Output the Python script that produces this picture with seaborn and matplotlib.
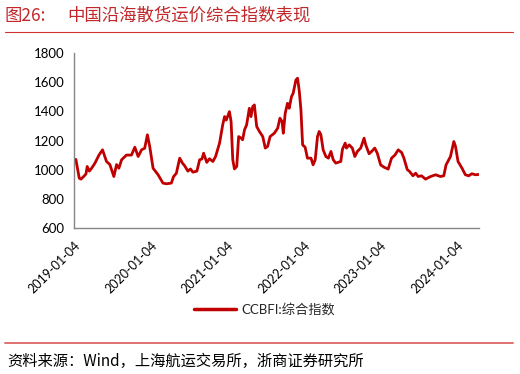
import matplotlib
matplotlib.use("Agg")
import matplotlib.pyplot as plt
from matplotlib.lines import Line2D
import seaborn as sns
import pandas as pd

dates = [
    "2019-01-04", "2019-01-13", "2019-01-29", "2019-02-06", "2019-02-17", "2019-03-02",
    "2019-03-08", "2019-03-18", "2019-03-29", "2019-04-14", "2019-05-03", "2019-05-20",
    "2019-06-08", "2019-06-24", "2019-07-13", "2019-07-26", "2019-08-06", "2019-08-19",
    "2019-09-11", "2019-10-05", "2019-10-21", "2019-11-06", "2019-11-22", "2019-12-07",
    "2019-12-20", "2019-12-31", "2020-01-16", "2020-02-09", "2020-03-03", "2020-03-20",
    "2020-04-12", "2020-04-23", "2020-05-06", "2020-05-22", "2020-06-04", "2020-06-14",
    "2020-06-30", "2020-07-12", "2020-07-24", "2020-08-12", "2020-08-25", "2020-09-05",
    "2020-09-13", "2020-09-28", "2020-10-11", "2020-10-27", "2020-11-09", "2020-11-28",
    "2020-12-13", "2020-12-22", "2020-12-30", "2021-01-14", "2021-01-22", "2021-01-30",
    "2021-02-07", "2021-02-18", "2021-02-27", "2021-03-11", "2021-03-18", "2021-03-27",
    "2021-04-06", "2021-04-19", "2021-04-27", "2021-05-05", "2021-05-13", "2021-05-24",
    "2021-06-06", "2021-06-22", "2021-07-04", "2021-07-15", "2021-07-27", "2021-08-16",
    "2021-09-01", "2021-09-12", "2021-09-22", "2021-09-28", "2021-10-07", "2021-10-18",
    "2021-10-26", "2021-11-06", "2021-11-14", "2021-11-27", "2021-12-05", "2021-12-13",
    "2021-12-21", "2021-12-29", "2022-01-10", "2022-01-21", "2022-02-07", "2022-02-17",
    "2022-02-27", "2022-03-10", "2022-03-18", "2022-03-26", "2022-04-06", "2022-04-19",
    "2022-05-01", "2022-05-13", "2022-05-24", "2022-06-05", "2022-06-29", "2022-07-07",
    "2022-07-20", "2022-07-26", "2022-08-08", "2022-08-23", "2022-09-04", "2022-09-16",
    "2022-10-02", "2022-10-18", "2022-10-26", "2022-11-11", "2022-11-23", "2022-12-08",
    "2022-12-20", "2023-01-05", "2023-01-21", "2023-02-10", "2023-02-26", "2023-03-14",
    "2023-03-30", "2023-04-15", "2023-04-26", "2023-05-12", "2023-05-23", "2023-06-08",
    "2023-06-21", "2023-07-03", "2023-07-19", "2023-08-07", "2023-08-31", "2023-09-24",
    "2023-10-17", "2023-11-02", "2023-11-13", "2023-12-04", "2023-12-20", "2023-12-28",
    "2024-01-09", "2024-01-28", "2024-02-13", "2024-02-29", "2024-03-15", "2024-04-01",
    "2024-04-16",
]
ccbfi = [
    1070, 1070, 942, 935, 950, 970,
    1022, 990, 1010, 1045, 1100, 1136,
    1056, 1035, 953, 1035, 1010, 1068,
    1100, 1100, 1154, 1090, 1136, 1147,
    1239, 1159, 1010, 965, 908, 903,
    908, 953, 975, 1079, 1045, 1028,
    990, 1005, 983, 990, 1068, 1073,
    1113, 1050, 1075, 1056, 1090, 1182,
    1307, 1364, 1340, 1398, 1330, 1068,
    1005, 1022, 1227, 1216, 1205, 1273,
    1307, 1421, 1364, 1432, 1444, 1296,
    1262, 1227, 1148, 1159, 1227, 1250,
    1284, 1353, 1330, 1250, 1387, 1455,
    1421, 1501, 1524, 1615, 1627, 1540,
    1410, 1170, 1154, 1079, 1079, 1033,
    1068, 1227, 1262, 1240, 1136, 1090,
    1079, 1125, 1068, 1045, 1056, 1140,
    1182, 1148, 1170, 1148, 1090, 1125,
    1148, 1216, 1170, 1109, 1125, 1148,
    1113, 1033, 1017, 1004, 1079, 1100,
    1136, 1118, 1079, 1000, 988, 958,
    976, 953, 958, 935, 953, 965,
    953, 958, 1033, 1090, 1193, 1159,
    1056, 1010, 965, 958, 972, 965,
    967,
]
tick_dates = ["2019-01-04", "2020-01-04", "2021-01-04", "2022-01-04", "2023-01-04", "2024-01-04"]
y_ticks = [600, 800, 1000, 1200, 1400, 1600, 1800]

fig_no = "图26:"
title = "中国沿海散货运价综合指数表现"
series_name = "CCBFI:综合指数"
source = "资料来源：Wind，上海航运交易所，浙商证券研究所"

df = pd.DataFrame({"date": pd.to_datetime(dates), "value": ccbfi})

sns.set_style("white")
plt.rcParams["font.family"] = ["Lato", "Noto Sans CJK SC", "DejaVu Sans"]
cjk = ["Noto Sans CJK SC", "DejaVu Sans"]

fig = plt.figure(figsize=(5.2, 3.74), dpi=100)
ax = fig.add_axes([74 / 520, 1 - 228 / 374, 405 / 520, 175 / 374])

red = "#C00000"
sns.lineplot(data=df, x="date", y="value", ax=ax, color=red, linewidth=2.0,
             label=series_name)

ax.set_ylim(600, 1800)
ax.set_yticks(y_ticks)
ax.set_xlim(pd.Timestamp(dates[0]), pd.Timestamp(dates[-1]) + pd.Timedelta(days=2))
ax.set_xticks(pd.to_datetime(tick_dates))
ax.set_xticklabels(tick_dates, rotation=45, ha="right", va="top", rotation_mode="anchor")
ax.set_xlabel("")
ax.set_ylabel("")

for s in ["top", "right"]:
    ax.spines[s].set_visible(False)
for s in ["left", "bottom"]:
    ax.spines[s].set_color("#868686")
    ax.spines[s].set_linewidth(1.0)
ax.tick_params(axis="both", which="major", direction="out", length=4, width=1,
               color="#868686", labelsize=9.5, labelcolor="#000000", pad=3)
ax.tick_params(axis="x", labelsize=9, pad=4)

leg = ax.legend(loc="upper center", bbox_to_anchor=(0.47, -0.36), frameon=False,
                fontsize=9.5, handlelength=3.2, handletextpad=0.4)
leg.get_lines()[0].set_linewidth(2.5)

fig.text(5 / 520, 1 - 21 / 374, fig_no, color="#C0282B", fontsize=12.5,
         va="baseline", ha="left", family=cjk)
fig.text(67 / 520, 1 - 21 / 374, title, color="#C0282B", fontsize=12.5,
         va="baseline", ha="left", family=cjk)
fig.add_artist(Line2D([5 / 520, 513 / 520], [1 - 31.5 / 374, 1 - 31.5 / 374],
                      color="#D03030", linewidth=0.8))
fig.add_artist(Line2D([5 / 520, 513 / 520], [1 - 342.5 / 374, 1 - 342.5 / 374],
                      color="#E07070", linewidth=1.4))
fig.text(7 / 520, 1 - 366 / 374, source, color="#000000", fontsize=11,
         va="baseline", ha="left", family=cjk)

fig.savefig("out.png", dpi=100)
